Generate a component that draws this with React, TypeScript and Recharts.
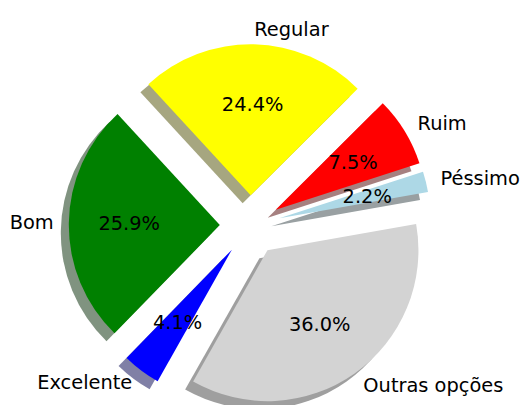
import { PieChart, Pie, Cell } from 'recharts'

const categories = ['Péssimo', 'Ruim', 'Regular', 'Bom', 'Excelente', 'Outras opções']
const percentages = [2.2, 7.5, 24.4, 25.9, 4.1, 36.0]
const colors = ['#add8e6', '#ff0000', '#ffff00', '#008000', '#0000ff', '#d3d3d3']

const data = categories.map((name, i) => ({ name, value: percentages[i] }))

const CX = 250
const CY = 225.5
const R = 151
const EXPLODE = 0.2 * R
const START = 10
const SHADOW_DX = -8
const SHADOW_DY = 8
const RADIAN = Math.PI / 180
const FONT = '"DejaVu Sans", sans-serif'
const FONT_SIZE = 19.4

const total = percentages.reduce((a, b) => a + b, 0)
const midAngles = percentages.map(
  (v, i) => START + ((percentages.slice(0, i).reduce((a, b) => a + b, 0) + v / 2) / total) * 360
)

// matplotlib shadow: 0.3 * facecolor at alpha 0.5 over white
function shade(hex: string) {
  const n = parseInt(hex.slice(1), 16)
  const c = [(n >> 16) & 255, (n >> 8) & 255, n & 255].map((v) => Math.round(127.5 + 0.15 * v))
  return `rgb(${c[0]},${c[1]},${c[2]})`
}

function center(i: number, dx = 0, dy = 0) {
  const a = midAngles[i] * RADIAN
  return { cx: CX + EXPLODE * Math.cos(a) + dx, cy: CY - EXPLODE * Math.sin(a) + dy }
}

function renderLabel(props: any) {
  const { midAngle, percent, name, index } = props
  const a = midAngle * RADIAN
  const ex = CX + EXPLODE * Math.cos(a)
  const ey = CY - EXPLODE * Math.sin(a)
  const lx = ex + 1.1 * R * Math.cos(a)
  const ly = ey - 1.1 * R * Math.sin(a)
  const px = ex + 0.6 * R * Math.cos(a)
  const py = ey - 0.6 * R * Math.sin(a)
  return (
    <g key={'lbl' + index}>
      <text x={lx} y={ly} textAnchor={lx > CX ? 'start' : 'end'} dominantBaseline="central"
        fill="#000" fontSize={FONT_SIZE} fontFamily={FONT}>
        {name}
      </text>
      <text x={px} y={py} textAnchor="middle" dominantBaseline="central"
        fill="#000" fontSize={FONT_SIZE} fontFamily={FONT}>
        {(percent * 100).toFixed(1)}%
      </text>
    </g>
  )
}

export default function App() {
  return (
    <div style={{ position: 'absolute', left: 0, top: 0, background: '#fff' }}>
      <PieChart width={525} height={405} margin={{ top: 0, right: 0, bottom: 0, left: 0 }}>
        {data.map((_, i) => (
          <Pie key={'s' + i} data={data} dataKey="value" {...center(i, SHADOW_DX, SHADOW_DY)}
            outerRadius={R} startAngle={START} endAngle={START + 360}
            stroke="none" isAnimationActive={false}>
            {data.map((d, j) => (
              <Cell key={d.name} fill={j === i ? shade(colors[j]) : 'none'} stroke="none" />
            ))}
          </Pie>
        ))}
        {data.map((_, i) => (
          <Pie key={'w' + i} data={data} dataKey="value" {...center(i)}
            outerRadius={R} startAngle={START} endAngle={START + 360}
            stroke="none" isAnimationActive={false}>
            {data.map((d, j) => (
              <Cell key={d.name} fill={j === i ? colors[j] : 'none'} stroke="none" />
            ))}
          </Pie>
        ))}
        <Pie data={data} dataKey="value" nameKey="name" cx={CX} cy={CY}
          outerRadius={R} startAngle={START} endAngle={START + 360}
          stroke="none" fill="none" labelLine={false} label={renderLabel}
          isAnimationActive={false}>
          {data.map((d) => (
            <Cell key={d.name} fill="none" stroke="none" />
          ))}
        </Pie>
      </PieChart>
    </div>
  )
}
